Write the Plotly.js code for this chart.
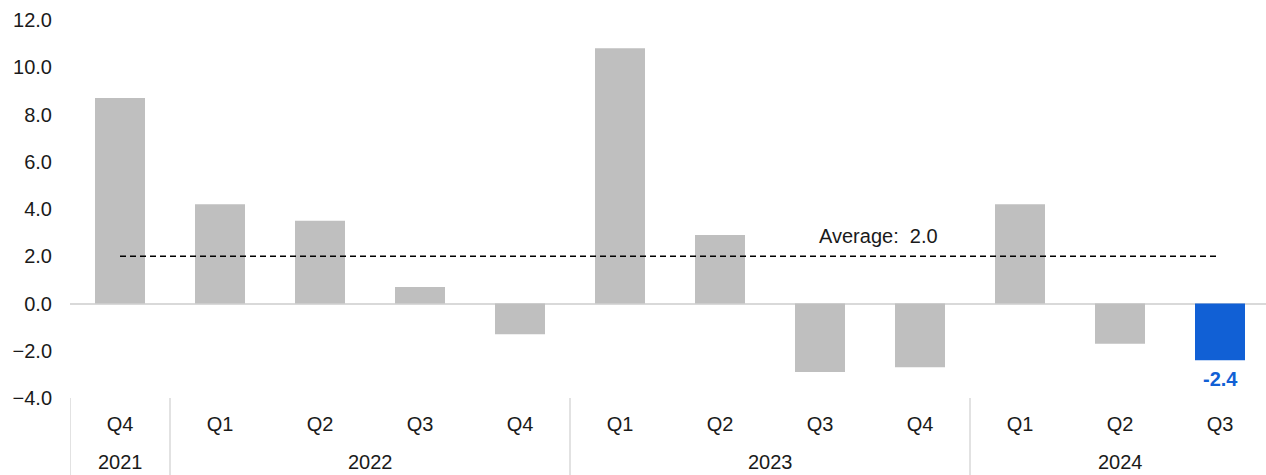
<!DOCTYPE html>
<html>
<head>
<meta charset="utf-8">
<script src="https://cdn.plot.ly/plotly-3.0.1.min.js"></script>
<style>html,body{margin:0;padding:0;background:#fff;}#chart{width:1266px;height:475px;}</style>
</head>
<body>
<div id="chart"></div>
<script>
const years = ["2021","2022","2022","2022","2022","2023","2023","2023","2023","2024","2024","2024"];
const quarters = ["Q4","Q1","Q2","Q3","Q4","Q1","Q2","Q3","Q4","Q1","Q2","Q3"];
const values = [8.7, 4.2, 3.5, 0.7, -1.3, 10.8, 2.9, -2.9, -2.7, 4.2, -1.7, -2.4];
const average = 2.0;
const averageLabel = "Average:\u00a0 2.0";

const GRAY = "#bfbfbf", BLUE = "#1160d5", TEXT = "#1a1a1a", LINE = "#d9d9d9";
const FONT = "Liberation Sans, Arial, sans-serif";

const cats = quarters.map((q, i) => years[i] + " " + q);
const last = values.length - 1;

const barTrace = {
  type: "bar",
  x: cats,
  y: values,
  marker: { color: values.map((v, i) => i === last ? BLUE : GRAY) },
  hoverinfo: "x+y",
  showlegend: false
};

const avgTrace = {
  type: "scatter",
  mode: "lines",
  x: [cats[0], cats[last]],
  y: [average, average],
  line: { color: "#000000", width: 1.5, dash: "6px,4px" },
  hoverinfo: "skip",
  showlegend: false
};

// year groups
const groups = [];
years.forEach((y, i) => {
  const g = groups.length ? groups[groups.length - 1] : null;
  if (g && g.year === y) g.end = i; else groups.push({ year: y, start: i, end: i });
});

const shapes = groups.map(g => ({
  type: "line", xref: "x", yref: "paper",
  x0: g.start - 0.5, x1: g.start - 0.5, y0: 0, y1: -0.25,
  line: { color: LINE, width: 1.5 }
}));

const annotations = groups.map(g => ({
  xref: "x", yref: "paper",
  x: (g.start + g.end) / 2, y: 0,
  yshift: -64,
  text: g.year, showarrow: false,
  font: { family: FONT, size: 20, color: TEXT },
  xanchor: "center", yanchor: "middle"
}));
annotations.push({
  xref: "x", yref: "y",
  x: 7.58, y: average,
  yanchor: "bottom", yshift: 7,
  text: averageLabel, showarrow: false,
  font: { family: FONT, size: 20, color: TEXT }
});
annotations.push({
  xref: "x", yref: "y",
  x: cats[last], y: values[last],
  yanchor: "top", yshift: -6,
  text: "<b>" + values[last].toFixed(1) + "</b>", showarrow: false,
  font: { family: FONT, size: 20, color: BLUE }
});

const layout = {
  width: 1266, height: 475,
  margin: { l: 70, r: 0, t: 20, b: 77 },
  paper_bgcolor: "#ffffff", plot_bgcolor: "#ffffff",
  font: { family: FONT, size: 20, color: TEXT },
  bargap: 0.5,
  xaxis: {
    type: "category",
    range: [-0.5, 11.46],
    tickvals: cats, ticktext: quarters,
    showgrid: false, showline: false, zeroline: false,
    ticks: "", ticklabelstandoff: 12,
    tickfont: { family: FONT, size: 20, color: TEXT },
    fixedrange: true
  },
  yaxis: {
    range: [-4, 12],
    dtick: 2, tick0: 0,
    tickformat: ".1f",
    showgrid: false, showline: false,
    zeroline: true, zerolinecolor: LINE, zerolinewidth: 2,
    ticks: "", ticklabelstandoff: 17,
    tickfont: { family: FONT, size: 20, color: TEXT },
    fixedrange: true
  },
  shapes: shapes,
  annotations: annotations
};

Plotly.newPlot("chart", [barTrace, avgTrace], layout, { displayModeBar: false, staticPlot: true });
</script>
</body>
</html>
